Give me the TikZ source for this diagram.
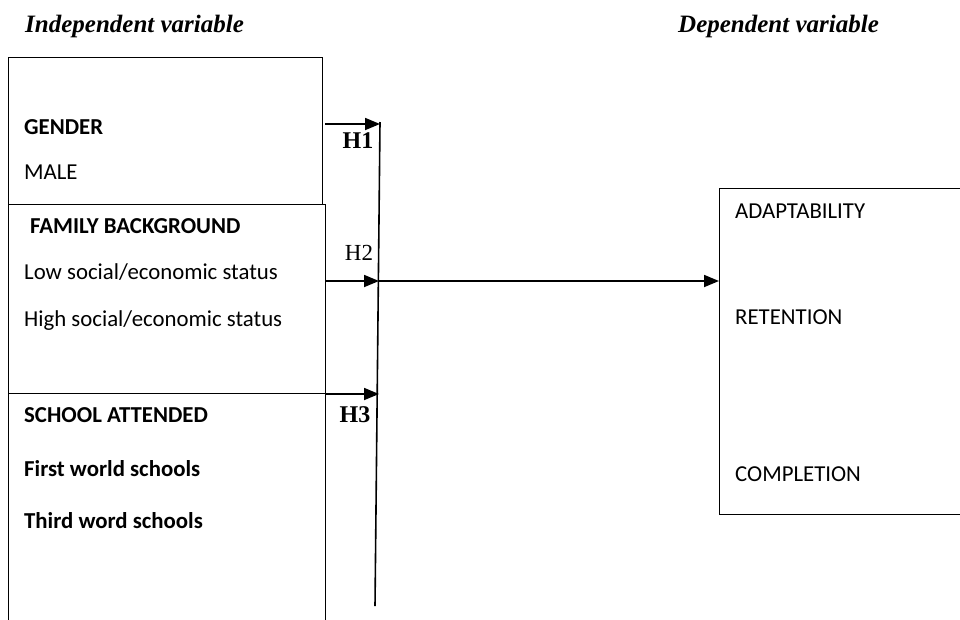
\documentclass[tikz,border=0pt]{standalone}
\usepackage{fontspec}
\setmainfont{Liberation Serif}
\newfontfamily\calfont{Carlito}
\usetikzlibrary{arrows.meta}
\begin{document}
\begin{tikzpicture}[x=1pt,y=-1pt,
  boxline/.style={draw,line width=1.4pt,inner sep=0pt,anchor=north west},
  itxt/.style={anchor=base west,inner sep=0pt,font=\calfont\fontsize{22.8}{25}\selectfont},
  btxt/.style={itxt,font=\calfont\bfseries\fontsize{22.8}{25}\selectfont},
  ttl/.style={anchor=base west,inner sep=0pt,font=\bfseries\itshape\fontsize{25}{27}\selectfont},
  hlab/.style={anchor=base,inner sep=0pt,font=\fontsize{23}{25}\selectfont},
  hbold/.style={hlab,font=\bfseries\fontsize{24}{26}\selectfont},
  conn/.style={line width=1.8pt,-{Triangle[length=15pt,width=12pt]}}]
\useasboundingbox (0,0) rectangle (960,619);
% boxes
\node[boxline,minimum width=314pt,minimum height=147pt] (gender) at (8,57) {};
\node[boxline,minimum width=317pt,minimum height=189pt] (family) at (8,204) {};
\node[boxline,minimum width=317pt,minimum height=240pt] (school) at (8,393) {};
\node[boxline,minimum width=260pt,minimum height=326pt] (dep) at (719,188) {};
% titles
\node[ttl] (tind) at (25,32) {Independent variable};
\node[ttl] (tdep) at (678,32) {Dependent variable};
% texts
\node[btxt] (g1) at (24,134.5) {GENDER};
\node[itxt] (g2) at (24,179.5) {MALE};
\node[btxt] (f1) at (30,233.5) {FAMILY BACKGROUND};
\node[itxt] (f2) at (24,279.5) {Low social/economic status};
\node[itxt] (f3) at (24,326.5) {High social/economic status};
\node[btxt] (s1) at (24,422.5) {SCHOOL ATTENDED};
\node[btxt] (s2) at (24,476.5) {First world schools};
\node[btxt] (s3) at (24,528.5) {Third word schools};
\node[itxt] (d1) at (735,218.5) {ADAPTABILITY};
\node[itxt] (d2) at (735,324.5) {RETENTION};
\node[itxt] (d3) at (735,481.5) {COMPLETION};
% vertical collector line
\coordinate (vtop) at (380,122);
\coordinate (vbot) at (375,606);
\draw[line width=1.6pt] (vtop) -- (vbot);
% arrows
\coordinate (a1) at (325,124);
\coordinate (b1) at (380,124);
\coordinate (a2) at (325,281);
\coordinate (b2) at (379,281);
\coordinate (a3) at (326,394);
\coordinate (b3) at (379,394);
\draw[conn] (a1) -- (b1);
\draw[conn] (a2) -- (b2);
\draw[conn] (a3) -- (b3);
\draw[conn] (b2) -- (dep.west |- b2);
% labels
\node[hbold] (h1) at (358,148) {H1};
\node[hlab] (h2) at (359,260) {H2};
\node[hbold] (h3) at (355,422) {H3};
\end{tikzpicture}
\end{document}
